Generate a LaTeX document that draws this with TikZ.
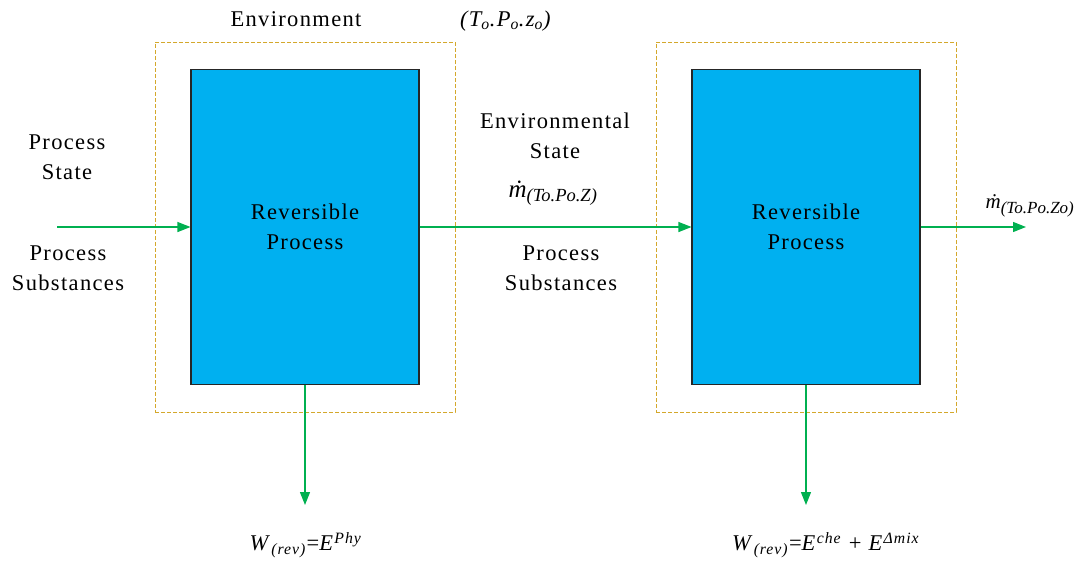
\documentclass[tikz,border=0pt]{standalone}
\usepackage{fontspec}
\setmainfont{Liberation Serif}
\usepackage{tikz}
\usetikzlibrary{arrows.meta,shapes,positioning}
\definecolor{procblue}{HTML}{00B0F0}
\definecolor{envgold}{HTML}{D4A82C}
\definecolor{flowgreen}{HTML}{00B050}

\begin{document}
\begin{tikzpicture}[x=1pt,y=1pt]
	\useasboundingbox (0,0) rectangle (1085,-560);
	\tikzstyle{txt} = [font=\fontsize{22.5}{29.5}\selectfont\addfontfeature{LetterSpace=6},align=center,inner sep=0pt]
	\tikzstyle{env} = [draw=envgold,dash pattern=on 4pt off 2pt,line width=1pt,minimum width=300,minimum height=370,inner sep=0pt]
	\tikzstyle{block} = [draw=black!85,fill=procblue,line width=1.1pt,minimum width=228,minimum height=315,inner sep=0pt,text centered]
	\tikzstyle{edge} = [-{Triangle[length=13pt,width=10pt]},flowgreen,line width=1.2pt]
	% environment frames
	\node[env](E1) at (305,-227) {};
	\node[env](E2) at (806,-227) {};
	% reversible processes
	\node[block,txt](R1) at (305,-227) {Reversible\\Process};
	\node[block,txt](R2) at (806,-227) {Reversible\\Process};
	\coordinate (in) at (57,-227);
	\coordinate (out) at (1026,-227);
	\coordinate (W1) at (305,-505);
	\coordinate (W2) at (806,-505);
	\draw[edge](in)--(R1.west);
	\draw[edge](R1.east)--(R2.west);
	\draw[edge](R2.east)--(out);
	\draw[edge](R1.south)--(W1);
	\draw[edge](R2.south)--(W2);
	% labels
	\node[txt](envlbl) at (296,-19) {Environment};
	\node[txt](ref) at (506,-21) {\textit{(T\textsubscript{o}.P\textsubscript{o}.z\textsubscript{o})}};
	\node[txt](pstate) at (67,-157) {Process\\State};
	\node[txt](psub1) at (68,-268) {Process\\Substances};
	\node[txt](estate) at (555,-136) {Environmental\\State};
	\node[txt,font=\fontsize{25}{25}\selectfont](m1) at (553,-193) {\textit{\.{m}}\textsubscript{\fontsize{18.5}{18.5}\selectfont\textit{(To.Po.Z)}}};
	\node[txt](psub2) at (561,-268) {Process\\Substances};
	\node[txt,font=\fontsize{21}{21}\selectfont](m2) at (1030,-206) {\textit{\.{m}}\textsubscript{\fontsize{17}{17}\selectfont\textit{(To.Po.Zo)}}};
	\node[txt](wl) at (306,-545) {\textit{W}\textsubscript{\textit{(rev)}}=\textit{E}\textsuperscript{\textit{Phy}}};
	\node[txt](wr) at (826,-545) {\textit{W}\textsubscript{\textit{(rev)}}=\textit{E}\textsuperscript{\textit{che}} + \textit{E}\textsuperscript{\textit{Δmix}}};
\end{tikzpicture}
\end{document}
